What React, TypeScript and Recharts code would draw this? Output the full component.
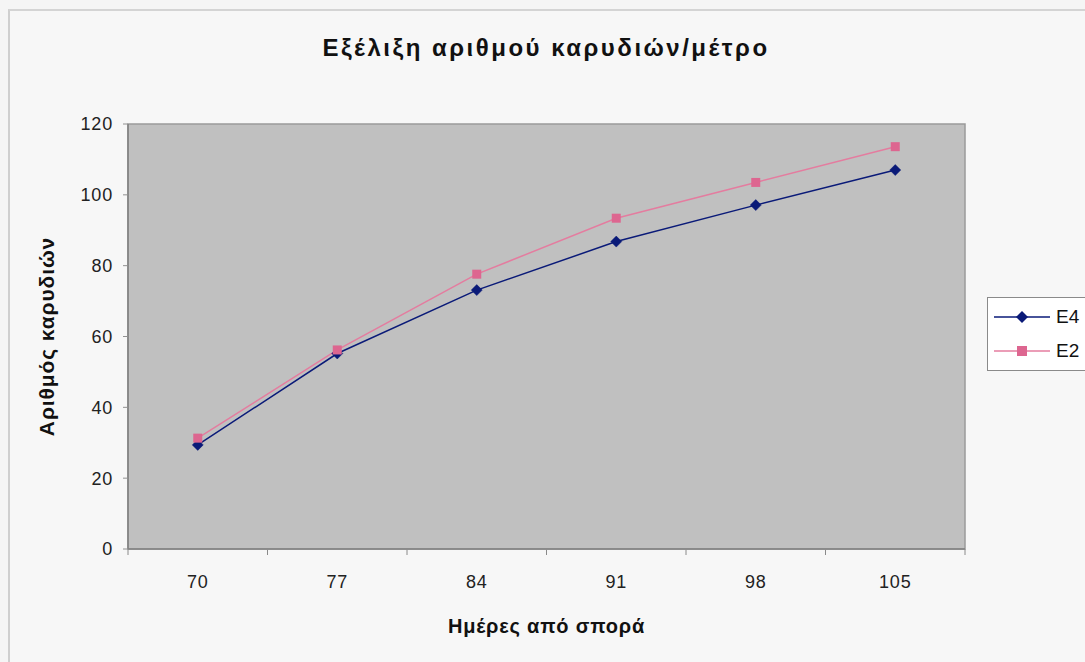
import React from "react";
import {
  LineChart,
  Line,
  XAxis,
  YAxis,
  ReferenceArea,
  Legend,
} from "recharts";

const days = [70, 77, 84, 91, 98, 105];
const e4Values = [29.4, 55.2, 73.1, 86.8, 97.1, 107.0];
const e2Values = [31.3, 56.2, 77.6, 93.4, 103.5, 113.6];
const boundaryTicks = [66.5, 73.5, 80.5, 87.5, 94.5, 101.5, 108.5];
const yTicks = [0, 20, 40, 60, 80, 100, 120];
const seriesOrder = ["E4", "E2"];

const data = days.map((d, i) => ({ day: d, E4: e4Values[i], E2: e2Values[i] }));

const E4_COLOR = "#0a1a78";
const E2_COLOR = "#dd6690";
const FONT = "'Liberation Sans', Arial, sans-serif";

const Diamond = (props: any) => {
  const { cx, cy, fill } = props;
  if (cx == null || cy == null) return null;
  const r = 5.5;
  return (
    <path
      d={`M${cx},${cy - r}L${cx + r},${cy}L${cx},${cy + r}L${cx - r},${cy}Z`}
      fill={fill}
      stroke={fill}
      strokeWidth={0.5}
    />
  );
};

const Square = (props: any) => {
  const { cx, cy, fill } = props;
  if (cx == null || cy == null) return null;
  const r = 4.5;
  return <rect x={cx - r} y={cy - r} width={2 * r} height={2 * r} fill={fill} />;
};

const EmptyTick = () => <g />;

const LegendContent = (props: any) => {
  const payload = [...(props.payload || [])].sort(
    (a: any, b: any) => seriesOrder.indexOf(a.value) - seriesOrder.indexOf(b.value)
  );
  return (
    <div
      style={{
        background: "#ffffff",
        border: "1px solid #8a8a8a",
        width: 100,
        padding: "2px 0",
        fontFamily: FONT,
        fontSize: 19,
        boxSizing: "border-box",
      }}
    >
      {payload.map((p: any) => {
        const isE4 = p.value === "E4";
        const c = isE4 ? E4_COLOR : E2_COLOR;
        return (
          <div key={p.value} style={{ display: "flex", alignItems: "center", height: 34 }}>
            <svg width={62} height={20} style={{ marginLeft: 6 }}>
              <line x1={0} y1={10} x2={56} y2={10} stroke={isE4 ? E4_COLOR : "#e47c9f"} strokeWidth={1.5} />
              {isE4 ? (
                <path d="M28,4L34,10L28,16L22,10Z" fill={c} />
              ) : (
                <rect x={23} y={5} width={10} height={10} fill={c} />
              )}
            </svg>
            <span style={{ color: "#111" }}>{p.value}</span>
          </div>
        );
      })}
    </div>
  );
};

export default function App() {
  return (
    <div
      style={{
        position: "absolute",
        left: 0,
        top: 0,
        width: 1085,
        height: 662,
        background: "#f5f5f5",
        overflow: "hidden",
      }}
    >
      <div
        style={{
          position: "absolute",
          left: 8,
          top: 9,
          width: 1090,
          height: 660,
          borderLeft: "2px solid #cfcfcf",
          borderTop: "2px solid #d4d4d4",
          background: "#f7f7f7",
        }}
      />
      <div
        style={{
          position: "absolute",
          left: 0,
          top: 34,
          width: 1092,
          textAlign: "center",
          fontFamily: FONT,
          fontWeight: "bold",
          fontSize: 24,
          color: "#111",
          letterSpacing: 2.5,
        }}
      >
        Εξέλιξη αριθμού καρυδιών/μέτρο
      </div>
      <div style={{ position: "absolute", left: 0, top: 0 }}>
        <LineChart
          width={1085}
          height={662}
          data={data}
          margin={{ top: 124, right: 20, bottom: 23, left: 68 }}
        >
          <ReferenceArea
            xAxisId="a"
            x1={66.5}
            x2={108.5}
            y1={0}
            y2={120}
            fill="#c0c0c0"
            fillOpacity={1}
            stroke="#9a9a9a"
            strokeWidth={1.5}
          />
          <XAxis
            xAxisId="a"
            dataKey="day"
            type="number"
            domain={[66.5, 108.5]}
            ticks={boundaryTicks}
            tick={<EmptyTick />}
            tickSize={6}
            height={8}
            axisLine={{ stroke: "#808080", strokeWidth: 1.5 }}
            tickLine={{ stroke: "#8a8a8a" }}
          />
          <XAxis
            xAxisId="b"
            dataKey="day"
            type="number"
            domain={[66.5, 108.5]}
            ticks={days}
            tickLine={false}
            axisLine={false}
            height={82}
            tickMargin={12}
            tick={{ fill: "#222", fontSize: 18, fontFamily: FONT, letterSpacing: 0.8 }}
            label={{
              value: "Ημέρες από σπορά",
              position: "insideBottom",
              offset: 6,
              style: { fontFamily: FONT, fontWeight: "bold", fontSize: 20, fill: "#111", letterSpacing: 0.8 },
            }}
          />
          <YAxis
            domain={[0, 120]}
            ticks={yTicks}
            width={60}
            tickSize={5}
            tickMargin={10}
            axisLine={{ stroke: "#808080", strokeWidth: 1.5 }}
            tickLine={{ stroke: "#909090" }}
            tick={{ fill: "#222", fontSize: 18, fontFamily: FONT, letterSpacing: 0.8 }}
            label={{
              value: "Αριθμός καρυδιών",
              angle: -90,
              position: "insideLeft",
              offset: -21,
              style: {
                fontFamily: FONT,
                fontWeight: "bold",
                fontSize: 21,
                fill: "#111",
                textAnchor: "middle",
                letterSpacing: 0.9,
              },
            }}
          />
          <Legend
            layout="vertical"
            align="right"
            verticalAlign="middle"
            content={<LegendContent />}
            wrapperStyle={{ left: 987, top: 297, width: 100 }}
          />
          <Line
            xAxisId="b"
            type="linear"
            dataKey="E4"
            stroke={E4_COLOR}
            strokeWidth={1.5}
            dot={<Diamond fill={E4_COLOR} />}
            isAnimationActive={false}
          />
          <Line
            xAxisId="b"
            type="linear"
            dataKey="E2"
            stroke="#e47c9f"
            strokeWidth={1.5}
            dot={<Square fill={E2_COLOR} />}
            isAnimationActive={false}
          />
        </LineChart>
      </div>
    </div>
  );
}
